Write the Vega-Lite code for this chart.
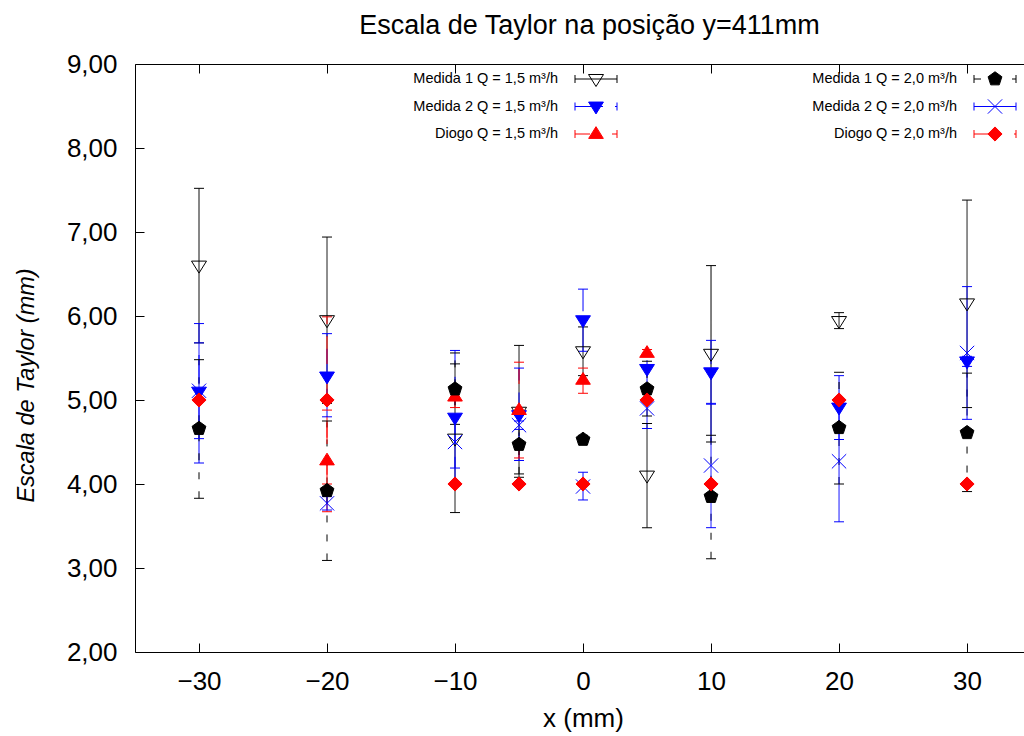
{
  "$schema": "https://vega.github.io/schema/vega-lite/v6.json",
  "width": 889,
  "height": 588,
  "autosize": {"type": "none"},
  "padding": {"left": 135, "top": 64, "right": 0, "bottom": 84},
  "background": "white",
  "title": {"text": "Escala de Taylor na posição y=411mm", "font": "Liberation Sans", "fontSize": 27, "fontWeight": "normal", "color": "black", "anchor": "middle", "baseline": "alphabetic", "offset": -10, "dx": 10},
  "config": {
    "view": {"stroke": null},
    "font": "Liberation Sans",
    "axis": {"labelFont": "Liberation Sans", "labelFontSize": 26, "labelColor": "black", "titleFont": "Liberation Sans", "titleFontSize": 26, "titleFontWeight": "normal", "titleColor": "black", "domainColor": "black", "domainWidth": 1, "tickColor": "black", "tickWidth": 1, "tickSize": -9, "grid": false}
  },
  "datasets": {
    "pts": [
      {"x": -30, "y": 6.60, "lo": 5.68, "hi": 7.52, "s": "M1 1,5"},
      {"x": -20, "y": 5.95, "lo": 4.96, "hi": 6.94, "s": "M1 1,5"},
      {"x": -10, "y": 4.54, "lo": 3.66, "hi": 5.43, "s": "M1 1,5"},
      {"x": -5, "y": 4.86, "lo": 4.08, "hi": 5.65, "s": "M1 1,5"},
      {"x": 0, "y": 5.58, "lo": 5.29, "hi": 5.87, "s": "M1 1,5"},
      {"x": 5, "y": 4.10, "lo": 3.48, "hi": 4.72, "s": "M1 1,5"},
      {"x": 10, "y": 5.55, "lo": 4.50, "hi": 6.60, "s": "M1 1,5"},
      {"x": 20, "y": 5.94, "lo": 5.85, "hi": 6.04, "s": "M1 1,5"},
      {"x": 30, "y": 6.15, "lo": 4.91, "hi": 7.38, "s": "M1 1,5"},
      {"x": -30, "y": 5.10, "lo": 4.25, "hi": 5.91, "s": "M2 1,5"},
      {"x": -20, "y": 5.28, "lo": 4.80, "hi": 5.79, "s": "M2 1,5"},
      {"x": -10, "y": 4.79, "lo": 3.99, "hi": 5.59, "s": "M2 1,5"},
      {"x": -5, "y": 4.82, "lo": 4.28, "hi": 5.38, "s": "M2 1,5"},
      {"x": 0, "y": 5.95, "lo": 5.58, "hi": 6.32, "s": "M2 1,5"},
      {"x": 5, "y": 5.37, "lo": 5.14, "hi": 5.60, "s": "M2 1,5"},
      {"x": 10, "y": 5.33, "lo": 4.95, "hi": 5.71, "s": "M2 1,5"},
      {"x": 20, "y": 4.91, "lo": 4.53, "hi": 5.29, "s": "M2 1,5"},
      {"x": 30, "y": 5.46, "lo": 5.40, "hi": 5.52, "s": "M2 1,5"},
      {"x": -20, "y": 4.28, "lo": 3.67, "hi": 4.88, "s": "D 1,5"},
      {"x": -10, "y": 5.04, "lo": 4.91, "hi": 5.17, "s": "D 1,5"},
      {"x": -5, "y": 4.88, "lo": 4.31, "hi": 5.45, "s": "D 1,5"},
      {"x": 0, "y": 5.24, "lo": 5.08, "hi": 5.38, "s": "D 1,5"},
      {"x": 5, "y": 5.56, "lo": 5.52, "hi": 5.60, "s": "D 1,5"},
      {"x": -30, "y": 4.66, "lo": 3.83, "hi": 5.48, "s": "M1 2,0"},
      {"x": -20, "y": 3.92, "lo": 3.09, "hi": 4.75, "s": "M1 2,0"},
      {"x": -10, "y": 5.13, "lo": 4.71, "hi": 5.56, "s": "M1 2,0"},
      {"x": -5, "y": 4.47, "lo": 4.12, "hi": 4.82, "s": "M1 2,0"},
      {"x": 0, "y": 4.53, "lo": 4.49, "hi": 4.58, "s": "M1 2,0"},
      {"x": 5, "y": 5.13, "lo": 4.81, "hi": 5.46, "s": "M1 2,0"},
      {"x": 10, "y": 3.85, "lo": 3.11, "hi": 4.58, "s": "M1 2,0"},
      {"x": 20, "y": 4.67, "lo": 4.00, "hi": 5.33, "s": "M1 2,0"},
      {"x": 30, "y": 4.61, "lo": 3.91, "hi": 5.32, "s": "M1 2,0"},
      {"x": -30, "y": 5.11, "lo": 4.54, "hi": 5.68, "s": "M2 2,0"},
      {"x": -20, "y": 3.77, "lo": 3.69, "hi": 3.85, "s": "M2 2,0"},
      {"x": -10, "y": 4.50, "lo": 4.19, "hi": 4.81, "s": "M2 2,0"},
      {"x": -5, "y": 4.70, "lo": 4.65, "hi": 4.75, "s": "M2 2,0"},
      {"x": 0, "y": 3.97, "lo": 3.81, "hi": 4.14, "s": "M2 2,0"},
      {"x": 5, "y": 4.90, "lo": 4.66, "hi": 5.14, "s": "M2 2,0"},
      {"x": 10, "y": 4.22, "lo": 3.48, "hi": 4.96, "s": "M2 2,0"},
      {"x": 20, "y": 4.27, "lo": 3.55, "hi": 4.99, "s": "M2 2,0"},
      {"x": 30, "y": 5.56, "lo": 4.77, "hi": 6.35, "s": "M2 2,0"},
      {"x": -30, "y": 5.00, "lo": 5.00, "hi": 5.00, "s": "D 2,0"},
      {"x": -20, "y": 5.00, "lo": 4.00, "hi": 5.99, "s": "D 2,0"},
      {"x": -10, "y": 4.00, "lo": 4.00, "hi": 4.00, "s": "D 2,0"},
      {"x": -5, "y": 4.00, "lo": 4.00, "hi": 4.00, "s": "D 2,0"},
      {"x": 0, "y": 4.00, "lo": 4.00, "hi": 4.00, "s": "D 2,0"},
      {"x": 5, "y": 5.00, "lo": 5.00, "hi": 5.00, "s": "D 2,0"},
      {"x": 10, "y": 4.00, "lo": 4.00, "hi": 4.00, "s": "D 2,0"},
      {"x": 20, "y": 5.00, "lo": 5.00, "hi": 5.00, "s": "D 2,0"},
      {"x": 30, "y": 4.00, "lo": 4.00, "hi": 4.00, "s": "D 2,0"}
    ],
    "leg": [
      {"s": "M1 1,5", "label": "Medida 1 Q = 1,5 m³/h", "col": 0, "row": 0},
      {"s": "M2 1,5", "label": "Medida 2 Q = 1,5 m³/h", "col": 0, "row": 1},
      {"s": "D 1,5", "label": "Diogo Q = 1,5 m³/h", "col": 0, "row": 2},
      {"s": "M1 2,0", "label": "Medida 1 Q = 2,0 m³/h", "col": 1, "row": 0},
      {"s": "M2 2,0", "label": "Medida 2 Q = 2,0 m³/h", "col": 1, "row": 1},
      {"s": "D 2,0", "label": "Diogo Q = 2,0 m³/h", "col": 1, "row": 2}
    ]
  },
  "layer": [
    {
      "data": {"name": "pts"},
      "resolve": {"axis": {"x": "independent", "y": "independent"}},
      "layer": [
        {
          "mark": {"type": "rule", "strokeWidth": 1, "opacity": 1},
          "encoding": {
            "x": {"field": "x", "type": "quantitative", "scale": {"domain": [-35, 34.45], "nice": false, "zero": false},
                  "axis": {"orient": "bottom", "values": [-30, -20, -10, 0, 10, 20, 30], "labelPadding": 25, "labelFlush": false, "labelOverlap": false, "title": "x (mm)", "titleBaseline": "middle", "titleY": 66, "titleX": 448}},
            "y": {"field": "lo", "type": "quantitative", "scale": {"domain": [2, 9], "nice": false, "zero": false},
                  "axis": {"orient": "left", "values": [2, 3, 4, 5, 6, 7, 8, 9], "labelPadding": 27, "labelExpr": "replace(format(datum.value, '.2f'), '.', ',')", "title": "Escala de Taylor (mm)", "titleFontSize": 23.5, "titleFontStyle": "italic", "titleBaseline": "alphabetic", "titleAngle": 270, "titleX": -102, "titleY": 321}},
            "y2": {"field": "hi"},
            "color": {"field": "s", "type": "nominal", "scale": {"domain": ["M1 1,5", "M2 1,5", "D 1,5", "M1 2,0", "M2 2,0", "D 2,0"], "range": ["#000000", "#0000ff", "#ff0000", "#000000", "#0000ff", "#ff0000"]}, "legend": null},
            "strokeDash": {"field": "s", "type": "nominal", "scale": {"domain": ["M1 1,5", "M2 1,5", "D 1,5", "M1 2,0", "M2 2,0", "D 2,0"], "range": [[1, 0], [28, 12], [15, 22], [7, 12], [1, 0], [28, 12]]}, "legend": null}
          }
        },
        {
          "mark": {"type": "tick", "orient": "horizontal", "size": 10, "thickness": 1, "opacity": 1},
          "encoding": {
            "x": {"field": "x", "type": "quantitative", "axis": {"orient": "top", "values": [-30, -20, -10, 0, 10, 20, 30], "labels": false, "title": null}},
            "y": {"field": "lo", "type": "quantitative", "axis": null},
            "color": {"field": "s", "type": "nominal", "legend": null}
          }
        },
        {
          "mark": {"type": "tick", "orient": "horizontal", "size": 10, "thickness": 1, "opacity": 1},
          "encoding": {
            "x": {"field": "x", "type": "quantitative", "axis": null},
            "y": {"field": "hi", "type": "quantitative", "axis": null},
            "color": {"field": "s", "type": "nominal", "legend": null}
          }
        },
        {
          "mark": {"type": "point", "opacity": 1, "fillOpacity": 1, "strokeWidth": 1},
          "encoding": {
            "x": {"field": "x", "type": "quantitative", "axis": null},
            "y": {"field": "y", "type": "quantitative", "axis": null},
            "shape": {"field": "s", "type": "nominal", "scale": {"domain": ["M1 1,5", "M2 1,5", "D 1,5", "M1 2,0", "M2 2,0", "D 2,0"], "range": ["M-1,-0.6L1,-0.6L0,1Z", "M-1,-0.6L1,-0.6L0,1Z", "M-1,0.6L1,0.6L0,-1Z", "M0,-1L0.951,-0.309L0.588,0.809L-0.588,0.809L-0.951,-0.309Z", "M-1,-1L1,1M-1,1L1,-1", "M-1,0L0,-1L1,0L0,1Z"]}, "legend": null},
            "fill": {"field": "s", "type": "nominal", "scale": {"domain": ["M1 1,5", "M2 1,5", "D 1,5", "M1 2,0", "M2 2,0", "D 2,0"], "range": ["transparent", "#0000ff", "#ff0000", "#000000", "transparent", "#ff0000"]}, "legend": null},
            "stroke": {"field": "s", "type": "nominal", "scale": {"domain": ["M1 1,5", "M2 1,5", "D 1,5", "M1 2,0", "M2 2,0", "D 2,0"], "range": ["#000000", "#0000ff", "#ff0000", "#000000", "#0000ff", "#ff0000"]}, "legend": null},
            "size": {"field": "s", "type": "nominal", "scale": {"domain": ["M1 1,5", "M2 1,5", "D 1,5", "M1 2,0", "M2 2,0", "D 2,0"], "range": [225, 200, 200, 190, 150, 180]}, "legend": null}
          }
        }
      ]
    },
    {
      "data": {"name": "leg"},
      "encoding": {
        "x": {"field": "col", "type": "quantitative", "scale": {"domain": [0, 1], "range": [423, 822]}, "axis": null},
        "y": {"field": "row", "type": "quantitative", "scale": {"domain": [0, 2], "range": [15, 70]}, "axis": null}
      },
      "layer": [
        {
          "mark": {"type": "rule", "strokeWidth": 1, "opacity": 1, "xOffset": 17, "x2Offset": 59},
          "encoding": {
            "x2": {"field": "col"},
            "color": {"field": "s", "type": "nominal", "legend": null},
            "strokeDash": {"field": "s", "type": "nominal", "legend": null}
          }
        },
        {
          "mark": {"type": "tick", "orient": "vertical", "size": 8, "thickness": 1, "opacity": 1, "xOffset": 17},
          "encoding": {"color": {"field": "s", "type": "nominal", "legend": null}}
        },
        {
          "mark": {"type": "tick", "orient": "vertical", "size": 8, "thickness": 1, "opacity": 1, "xOffset": 59},
          "encoding": {"color": {"field": "s", "type": "nominal", "legend": null}}
        },
        {
          "mark": {"type": "point", "opacity": 1, "fillOpacity": 1, "strokeWidth": 1, "xOffset": 38},
          "encoding": {
            "shape": {"field": "s", "type": "nominal", "legend": null},
            "fill": {"field": "s", "type": "nominal", "legend": null},
            "stroke": {"field": "s", "type": "nominal", "legend": null},
            "size": {"field": "s", "type": "nominal", "legend": null}
          }
        },
        {
          "mark": {"type": "text", "align": "right", "baseline": "middle", "font": "Liberation Sans", "fontSize": 14.5, "color": "black"},
          "encoding": {"text": {"field": "label"}}
        }
      ]
    }
  ],
  "resolve": {"scale": {"x": "independent", "y": "independent"}}
}
